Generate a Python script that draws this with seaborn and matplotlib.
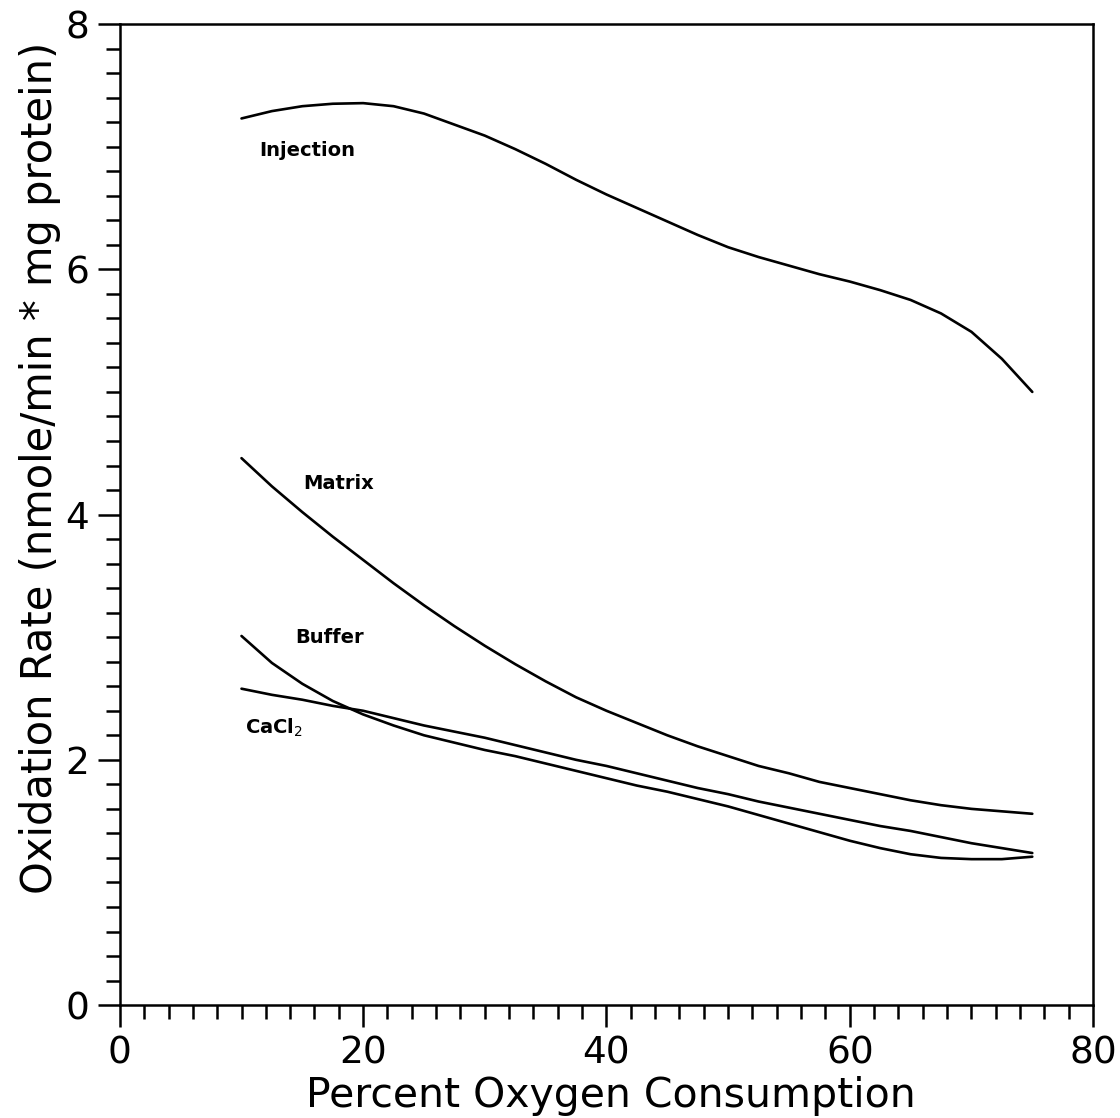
import numpy as np
import pandas as pd
import matplotlib
matplotlib.use("Agg")
import matplotlib.pyplot as plt
import seaborn as sns
from matplotlib.ticker import MultipleLocator

# ---- data ----
x_pct = [10, 12.5, 15, 17.5, 20, 22.5, 25, 27.5, 30, 32.5, 35, 37.5, 40, 42.5,
         45, 47.5, 50, 52.5, 55, 57.5, 60, 62.5, 65, 67.5, 70, 72.5, 75]
injection = [7.23, 7.29, 7.33, 7.35, 7.355, 7.33, 7.27, 7.18, 7.09, 6.98, 6.86, 6.73,
             6.61, 6.50, 6.39, 6.28, 6.18, 6.10, 6.03, 5.96, 5.90, 5.83, 5.75, 5.64,
             5.49, 5.27, 5.00]
matrix = [4.46, 4.23, 4.02, 3.82, 3.63, 3.44, 3.26, 3.09, 2.93, 2.78, 2.64, 2.51,
          2.40, 2.30, 2.20, 2.11, 2.03, 1.95, 1.89, 1.82, 1.77, 1.72, 1.67, 1.63,
          1.60, 1.58, 1.56]
buffer = [3.01, 2.79, 2.62, 2.48, 2.37, 2.28, 2.20, 2.14, 2.08, 2.03, 1.97, 1.91,
          1.85, 1.79, 1.74, 1.68, 1.62, 1.55, 1.48, 1.41, 1.34, 1.28, 1.23, 1.20,
          1.19, 1.19, 1.21]
cacl2 = [2.58, 2.53, 2.49, 2.44, 2.40, 2.34, 2.28, 2.23, 2.18, 2.12, 2.06, 2.00,
         1.95, 1.89, 1.83, 1.77, 1.72, 1.66, 1.61, 1.56, 1.51, 1.46, 1.42, 1.37,
         1.32, 1.28, 1.24]

series_names = ["Injection", "Matrix", "Buffer", "CaCl2"]
label_text = ["Injection", "Matrix", "Buffer", "CaCl$_2$"]
label_x = [11.5, 15.1, 14.4, 10.3]
label_y = [6.97, 4.25, 3.00, 2.26]

x_ticks = [0, 20, 40, 60, 80]
y_ticks = [0, 2, 4, 6, 8]

df = pd.DataFrame({
    "x": x_pct * 4,
    "y": injection + matrix + buffer + cacl2,
    "series": sum([[n] * len(x_pct) for n in series_names], []),
})

sns.set_style("ticks")
plt.rcParams["font.family"] = ["DejaVu Sans"]
plt.rcParams["text.color"] = "black"
plt.rcParams["axes.labelcolor"] = "black"

fig = plt.figure(figsize=(11.2, 11.18), dpi=100)
ax = fig.add_axes([0.107, 0.101, 0.869, 0.8775])

sns.lineplot(data=df, x="x", y="y", hue="series", units="series", estimator=None,
             palette=["black"] * 4, linewidth=1.9, legend=False, ax=ax, sort=False)

for t, lx, ly in zip(label_text, label_x, label_y):
    ax.text(lx, ly, t, fontsize=14, fontweight="bold", ha="left", va="center",
            color="black")

ax.set_xlim(0, 80)
ax.set_ylim(0, 8)
ax.set_xticks(x_ticks)
ax.set_yticks(y_ticks)
ax.xaxis.set_minor_locator(MultipleLocator(2))
ax.yaxis.set_minor_locator(MultipleLocator(0.2))
ax.tick_params(which="major", direction="out", length=16, width=1.8,
               labelsize=27, colors="black", pad=6)
ax.tick_params(which="minor", direction="out", length=10, width=1.8, colors="black")
for s in ax.spines.values():
    s.set_linewidth(1.8)
    s.set_color("black")

ax.set_xlabel("Percent Oxygen Consumption", fontsize=29.5, color="black")
ax.set_ylabel("Oxidation Rate (nmole/min * mg protein)", fontsize=30, color="black")
ax.xaxis.set_label_coords(0.505, -0.0725)
ax.yaxis.set_label_coords(-0.06, 0.548)

fig.savefig("out.png", dpi=100, facecolor="white")
